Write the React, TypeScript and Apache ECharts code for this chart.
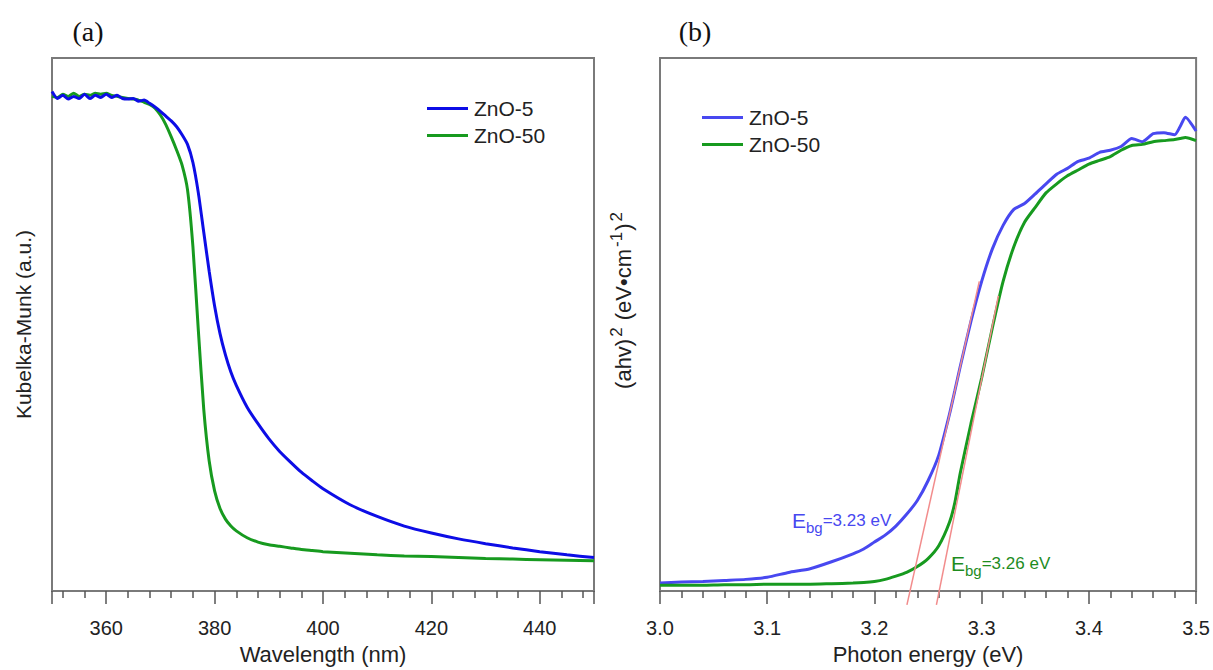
import React, { useEffect, useRef } from "react";
import * as echarts from "echarts";

// ---------- Panel (a): Kubelka-Munk vs wavelength ----------
const wavelengths = [
  350, 351, 352, 353, 354, 355, 356, 357, 358, 359, 360, 361, 362, 363, 364, 365, 366, 367, 368, 369,
  370, 371, 372, 373, 374, 375, 376, 377, 378, 379, 380, 381, 382, 383, 384, 386, 388, 390, 392, 394,
  396, 398, 400, 405, 410, 415, 420, 425, 430, 435, 440, 445, 450,
];
const kmZnO5 = [
  93.7, 92.4, 93.0, 92.3, 92.8, 92.4, 93.2, 92.4, 93.0, 92.6, 93.2, 92.6, 93.0, 92.4, 92.3, 92.4, 91.9, 92.1, 91.5, 90.8,
  90.0, 89.1, 88.2, 87.1, 85.6, 83.8, 80.4, 74.7, 67.3, 60.0, 53.5, 48.3, 44.3, 41.1, 38.6, 34.5, 31.4, 28.6, 26.2, 24.2,
  22.3, 20.7, 19.2, 16.2, 14.0, 12.2, 10.9, 9.8, 8.9, 8.1, 7.4, 6.8, 6.3,
];
const kmZnO50 = [
  92.8, 92.6, 93.2, 92.8, 93.4, 92.8, 93.2, 93.0, 93.4, 93.2, 93.4, 93.0, 92.8, 92.6, 92.4, 92.3, 92.1, 91.7, 91.3, 90.6,
  89.3, 87.5, 85.2, 82.7, 79.9, 75.3, 64.6, 48.9, 34.1, 24.4, 18.8, 15.5, 13.5, 12.2, 11.3, 10.0, 9.2, 8.7, 8.4, 8.1,
  7.8, 7.6, 7.4, 7.1, 6.8, 6.6, 6.5, 6.3, 6.1, 6.0, 5.9, 5.8, 5.7,
];

// ---------- Panel (b): Tauc plot ----------
const energies = [
  3.0, 3.02, 3.04, 3.06, 3.08, 3.1, 3.12, 3.14, 3.16, 3.18, 3.19, 3.2, 3.21, 3.22, 3.23, 3.24, 3.25, 3.26, 3.27, 3.275,
  3.28, 3.29, 3.3, 3.31, 3.32, 3.33, 3.34, 3.35, 3.36, 3.37, 3.38, 3.39, 3.4, 3.41, 3.42, 3.43, 3.44, 3.45, 3.46, 3.47,
  3.48, 3.485, 3.49, 3.5,
];
const taucZnO5 = [
  1.5, 1.7, 1.8, 2.0, 2.2, 2.6, 3.5, 4.2, 5.5, 7.0, 7.9, 9.2, 10.5, 12.2, 14.4, 17.0, 20.7, 25.5, 33.2, 37.6,
  42.1, 50.6, 58.1, 64.2, 68.6, 71.6, 72.7, 74.5, 76.4, 78.2, 79.3, 80.6, 81.2, 82.3, 82.7, 83.4, 84.9, 84.3, 85.8, 86.0,
  85.6, 87.1, 88.9, 86.3,
];
const taucZnO50 = [
  1.1, 1.1, 1.1, 1.2, 1.2, 1.3, 1.3, 1.3, 1.4, 1.5, 1.6, 1.8, 2.2, 2.8, 3.5, 4.6, 6.1, 8.5, 12.9, 16.6,
  22.1, 31.4, 40.0, 49.4, 58.1, 64.6, 69.2, 72.0, 74.7, 76.4, 77.9, 79.0, 80.1, 80.8, 81.5, 82.7, 83.6, 83.8, 84.3, 84.5,
  84.7, 84.9, 85.1, 84.5,
];
// tangent (extrapolation) lines
const tangent5X = [3.2303, 3.2978];
const tangent5Y = [-2.6, 58.1];
const tangent50X = [3.2578, 3.3156];
const tangent50Y = [-2.6, 55.4];

const seriesNames = ["ZnO-5", "ZnO-50"];
const FONT = "Liberation Sans, Arial, sans-serif";

const zip = (xs: number[], ys: number[]) => xs.map((x, i) => [x, ys[i]]);

const xAxisCommon = {
  nameLocation: "middle" as const,
  nameGap: 49,
  nameTextStyle: { fontSize: 22, color: "#222", fontFamily: FONT },
  axisLine: { show: false },
  axisTick: { show: true, inside: false, length: 13, lineStyle: { color: "#555", width: 1.5 } },
  minorTick: { show: true, splitNumber: 5, length: 7, lineStyle: { color: "#555", width: 1.5 } },
  splitLine: { show: false },
  minorSplitLine: { show: false },
};

const yAxisCommon = {
  type: "value" as const,
  min: 0,
  max: 100,
  axisLine: { show: false },
  axisTick: { show: false },
  axisLabel: { show: false },
  splitLine: { show: false },
};

const legendCommon = {
  orient: "vertical" as const,
  icon: "rect",
  itemWidth: 41,
  itemHeight: 3,
  itemGap: 6,
  selectedMode: false,
  textStyle: { fontSize: 21, lineHeight: 20, color: "#222", fontFamily: FONT, padding: [0, 0, 0, 1] },
};

const option: any = {
  animation: false,
  backgroundColor: "#ffffff",
  grid: [
    { left: 52, top: 58, width: 542, height: 542, show: true, borderColor: "#7a7a7a", borderWidth: 2 },
    { left: 660, top: 58, width: 537, height: 542, show: true, borderColor: "#7a7a7a", borderWidth: 2 },
  ],
  xAxis: [
    {
      ...xAxisCommon,
      type: "value",
      gridIndex: 0,
      min: 350,
      max: 450,
      splitNumber: 5,
      name: "Wavelength (nm)",
      axisLabel: {
        fontSize: 20,
        color: "#222",
        fontFamily: FONT,
        margin: 27,
        showMinLabel: false,
        showMaxLabel: false,
      },
    },
    {
      ...xAxisCommon,
      type: "value",
      gridIndex: 1,
      min: 3.0,
      max: 3.5,
      interval: 0.1,
      name: "Photon energy (eV)",
      axisLabel: {
        fontSize: 20,
        color: "#222",
        fontFamily: FONT,
        margin: 27,
        formatter: (v: number) => v.toFixed(1),
      },
    },
  ],
  yAxis: [
    {
      ...yAxisCommon,
      gridIndex: 0,
      name: "Kubelka-Munk (a.u.)",
      nameLocation: "middle",
      nameGap: 18,
      nameTextStyle: { fontSize: 21, color: "#222", fontFamily: FONT },
    },
    { ...yAxisCommon, gridIndex: 1 },
  ],
  legend: [
    { ...legendCommon, left: 422, top: 93, data: seriesNames },
    {
      ...legendCommon,
      left: 697,
      top: 102,
      data: seriesNames.map((n) => n + "(b)"),
      formatter: (n: string) => n.replace("(b)", ""),
    },
  ],
  series: [
    {
      name: "ZnO-50",
      type: "line",
      xAxisIndex: 0,
      yAxisIndex: 0,
      data: zip(wavelengths, kmZnO50),
      symbol: "none",
      smooth: 0.2,
      lineStyle: { color: "#179a1f", width: 3 },
      itemStyle: { color: "#179a1f" },
    },
    {
      name: "ZnO-5",
      type: "line",
      xAxisIndex: 0,
      yAxisIndex: 0,
      data: zip(wavelengths, kmZnO5),
      symbol: "none",
      smooth: 0.2,
      lineStyle: { color: "#0d0de6", width: 3 },
      itemStyle: { color: "#0d0de6" },
    },
    {
      name: "ZnO-5(b)",
      type: "line",
      xAxisIndex: 1,
      yAxisIndex: 1,
      data: zip(energies, taucZnO5),
      symbol: "none",
      smooth: 0.2,
      lineStyle: { color: "#4848f0", width: 3 },
      itemStyle: { color: "#4848f0" },
    },
    {
      name: "ZnO-50(b)",
      type: "line",
      xAxisIndex: 1,
      yAxisIndex: 1,
      data: zip(energies, taucZnO50),
      symbol: "none",
      smooth: 0.2,
      lineStyle: { color: "#179a1f", width: 3 },
      itemStyle: { color: "#179a1f" },
    },
    {
      name: "tangent-5",
      type: "line",
      xAxisIndex: 1,
      yAxisIndex: 1,
      data: zip(tangent5X, tangent5Y),
      symbol: "none",
      clip: false,
      silent: true,
      z: 5,
      lineStyle: { color: "#f28c8c", width: 1.5 },
    },
    {
      name: "tangent-50",
      type: "line",
      xAxisIndex: 1,
      yAxisIndex: 1,
      data: zip(tangent50X, tangent50Y),
      symbol: "none",
      clip: false,
      silent: true,
      z: 5,
      lineStyle: { color: "#f28c8c", width: 1.5 },
    },
  ],
  graphic: [
    {
      type: "text",
      x: 88,
      y: 31,
      style: {
        text: "(a)",
        fontSize: 28,
        fontFamily: "Liberation Serif, Times New Roman, serif",
        fill: "#111",
        align: "center",
        verticalAlign: "middle",
      },
    },
    {
      type: "text",
      x: 695,
      y: 31,
      style: {
        text: "(b)",
        fontSize: 28,
        fontFamily: "Liberation Serif, Times New Roman, serif",
        fill: "#111",
        align: "center",
        verticalAlign: "middle",
      },
    },
    {
      type: "text",
      x: 623,
      y: 300,
      rotation: Math.PI / 2,
      style: {
        text: "{m|(ahv)}{s|2}{m| (eV•cm}{s|-1}{m|)}{s|2}",
        align: "center",
        verticalAlign: "middle",
        fill: "#222",
        fontFamily: FONT,
        rich: {
          m: { fontSize: 22, lineHeight: 30, fill: "#222", fontFamily: FONT },
          s: { fontSize: 17, lineHeight: 17, verticalAlign: "top", fill: "#222", fontFamily: FONT, padding: [0, 1, 0, 2] },
        },
      },
    },
    {
      type: "text",
      x: 792,
      y: 520,
      style: {
        text: "{E|E}{b|bg}{r|=3.23 eV}",
        align: "left",
        verticalAlign: "middle",
        fill: "#4848f0",
        fontFamily: FONT,
        rich: {
          E: { fontSize: 21, lineHeight: 30, fill: "#4848f0", fontFamily: FONT },
          b: { fontSize: 15, lineHeight: 16, verticalAlign: "bottom", fill: "#4848f0", fontFamily: FONT },
          r: { fontSize: 17, lineHeight: 30, fill: "#4848f0", fontFamily: FONT },
        },
      },
    },
    {
      type: "text",
      x: 951,
      y: 563,
      style: {
        text: "{E|E}{b|bg}{r|=3.26 eV}",
        align: "left",
        verticalAlign: "middle",
        fill: "#1e8c1e",
        fontFamily: FONT,
        rich: {
          E: { fontSize: 21, lineHeight: 30, fill: "#1e8c1e", fontFamily: FONT },
          b: { fontSize: 15, lineHeight: 16, verticalAlign: "bottom", fill: "#1e8c1e", fontFamily: FONT },
          r: { fontSize: 17, lineHeight: 30, fill: "#1e8c1e", fontFamily: FONT },
        },
      },
    },
  ],
};

export default function App() {
  const ref = useRef<HTMLDivElement>(null);
  useEffect(() => {
    if (!ref.current) return;
    const chart = echarts.init(ref.current, null, { renderer: "svg" });
    chart.setOption(option);
    return () => chart.dispose();
  }, []);
  return (
    <div
      ref={ref}
      style={{ position: "absolute", left: 0, top: 0, width: 1213, height: 670, background: "#ffffff" }}
    />
  );
}
